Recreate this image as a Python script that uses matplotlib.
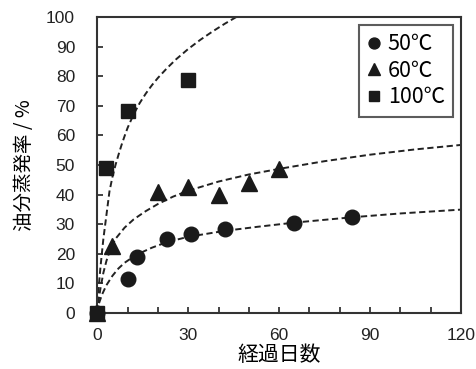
import matplotlib
matplotlib.use("Agg")
import matplotlib.pyplot as plt
from matplotlib.ticker import MultipleLocator

plt.rcParams['font.family'] = ['Liberation Sans', 'Noto Sans CJK JP', 'DejaVu Sans']

# measured points (days, evaporation %)
days_50 = [0, 10, 13, 23, 31, 42, 65, 84]
evap_50 = [0, 11.5, 18.8, 24.8, 26.6, 28.3, 30.5, 32.5]
days_60 = [0, 5, 20, 30, 40, 50, 60]
evap_60 = [0, 22.5, 40.8, 42.5, 39.8, 43.8, 48.6]
days_100 = [0, 3, 10, 30]
evap_100 = [0, 49.1, 68.3, 78.9]

# dashed fit curves
fit_x_50 = [0, 0.5, 1.5, 3, 5, 7, 9, 12, 15, 18, 23, 30, 42, 53, 65, 84, 100, 120]
fit_y_50 = [0, 3, 6, 9.3, 12.5, 15, 16.9, 19, 20.6, 22, 23.9, 25.7, 27.7, 29.1,
            30.5, 32.3, 33.6, 34.9]
fit_x_60 = [0, 0.5, 1, 2, 3, 4.3, 6, 9, 12, 16, 20, 25, 30, 40, 50, 60, 75,
            90, 105, 120]
fit_y_60 = [0, 4.5, 8, 13.5, 17.5, 21.5, 25, 28.8, 31.6, 34.4, 36.8, 39.3, 41.3,
            44.4, 46.8, 48.7, 51.3, 53.5, 55.3, 56.8]
fit_x_100 = [0, 0.5, 1, 2, 3, 4, 5, 6, 7, 8, 9, 10, 12, 14, 16, 18, 20, 23, 26,
             30, 34, 38, 42, 46, 48]
fit_y_100 = [0, 9, 15, 25, 33, 41, 46, 50, 53.5, 56.8, 59.8, 62.6, 67.2, 71,
             74.2, 77, 79.5, 82.8, 85.8, 89.3, 92.4, 95.2, 97.8, 100.2, 101.4]

fig = plt.figure(figsize=(4.77, 3.69), dpi=100)
ax = fig.add_axes([0.204, 0.1526, 0.7625, 0.8004])

for fx, fy in [(fit_x_50, fit_y_50), (fit_x_60, fit_y_60), (fit_x_100, fit_y_100)]:
    ax.plot(fx, fy, color='#222222', lw=1.4, ls=(0, (3.2, 1.8)), zorder=2)

ax.plot(days_50, evap_50, 'o', color='#1a1a1a', ms=10.5, ls='none',
        label='50℃', clip_on=False, zorder=3)
ax.plot(days_60, evap_60, '^', color='#1a1a1a', ms=11, ls='none',
        label='60℃', clip_on=False, zorder=3)
ax.plot(days_100, evap_100, 's', color='#1a1a1a', ms=10, ls='none',
        label='100℃', clip_on=False, zorder=4)

ax.set_xlim(0, 120)
ax.set_ylim(0, 100)
ax.xaxis.set_major_locator(MultipleLocator(30))
ax.xaxis.set_minor_locator(MultipleLocator(10))
ax.yaxis.set_major_locator(MultipleLocator(10))
ax.tick_params(axis='both', which='both', direction='in', length=4.5,
               width=1.2, labelsize=12.5, colors='#222222')
ax.tick_params(axis='x', pad=11)
ax.tick_params(axis='y', pad=16)
for s in ax.spines.values():
    s.set_linewidth(1.5)
    s.set_color('#333333')

ax.set_xlabel('経過日数', fontsize=15, family=['Noto Sans CJK JP'], labelpad=1)
ax.set_ylabel('油分蒸発率 / %', fontsize=14, family=['Noto Sans CJK JP'], labelpad=8)

leg = ax.legend(loc='upper right', prop={'family': ['Noto Sans CJK JP'], 'size': 15.5},
                frameon=True, fancybox=False, edgecolor='#333333',
                handlelength=0.6, handletextpad=0.35, labelspacing=0.2,
                borderpad=0.4, borderaxespad=0.35, markerscale=0.75)
leg.get_frame().set_linewidth(1.5)

fig.savefig('out.png', dpi=100)
